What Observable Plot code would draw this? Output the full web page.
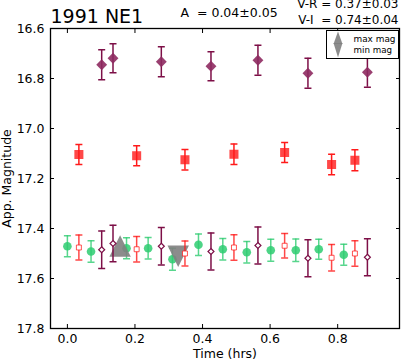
<!DOCTYPE html>
<html><head><meta charset="utf-8">
<script src="https://cdn.jsdelivr.net/npm/d3@7"></script>
<script src="https://cdn.jsdelivr.net/npm/@observablehq/plot@0.6"></script>
<style>
body{margin:0;background:#fff;}
#chart{position:relative;width:401px;height:362px;font-family:"DejaVu Sans",sans-serif;}
#legend{position:absolute;left:326px;top:30px;width:71px;height:27px;border:1px solid #000;background:#fff;}
#legend svg{display:block;}
#legend text{font-family:"DejaVu Sans";font-size:9px;fill:#000;}
</style></head><body><div id="chart"></div>
<script>
// V band (green circles)
const timeV = [0.0, 0.07, 0.175, 0.239, 0.311, 0.388, 0.46, 0.531, 0.602, 0.676, 0.744, 0.818];
const magV  = [17.471, 17.492, 17.479, 17.479, 17.523, 17.465, 17.483, 17.495, 17.487, 17.487, 17.483, 17.505];
const errV  = [0.042, 0.043, 0.042, 0.043, 0.044, 0.043, 0.043, 0.043, 0.044, 0.045, 0.040, 0.042];
// R band (red squares)
const timeR = [0.034, 0.205, 0.348, 0.493, 0.643, 0.782, 0.851];
const magR  = [17.104, 17.109, 17.125, 17.103, 17.096, 17.144, 17.127];
const errR  = [0.040, 0.040, 0.041, 0.041, 0.040, 0.041, 0.042];
// R band shifted by V-R (open squares)
const magRs = [17.476, 17.483, 17.500, 17.476, 17.469, 17.517, 17.500];
const errRs = [0.050, 0.051, 0.050, 0.051, 0.049, 0.053, 0.051];
// I band (purple diamonds)
const timeI = [0.1015, 0.135, 0.278, 0.425, 0.564, 0.712, 0.888];
const magI  = [16.745, 16.719, 16.733, 16.751, 16.727, 16.779, 16.775];
const errI  = [0.060, 0.058, 0.060, 0.058, 0.060, 0.060, 0.060];
// I band shifted by V-I (open diamonds)
const magIs = [17.485, 17.460, 17.471, 17.492, 17.468, 17.519, 17.515];
const errIs = [0.075, 0.073, 0.075, 0.074, 0.074, 0.074, 0.074];
// lightcurve extremes
const maxTime = [0.156], maxMag = [17.470];
const minTime = [0.328], minMag = [17.511];
// ticks and labels
const xTicks = [0, 0.2, 0.4, 0.6, 0.8];
const yTicks = [16.6, 16.8, 17.0, 17.2, 17.4, 17.6, 17.8];
const titleText = "1991 NE1";
const ampText = "A  = 0.04\u00b10.05";
const vrText = "V-R = 0.37\u00b10.03";
const viText = "V-I  = 0.74\u00b10.04";
const legendLabels = ["max mag", "min mag"];

const rows = (t, m, e) => t.map((x, i) => ({t: x, m: m[i], e: e ? e[i] : 0}));
const V = rows(timeV, magV, errV);
const R = rows(timeR, magR, errR);
const Rs = rows(timeR, magRs, errRs);
const I = rows(timeI, magI, errI);
const Is = rows(timeI, magIs, errIs);
const MX = rows(maxTime, maxMag);
const MN = rows(minTime, minMag);

const green = "#2ecc71", red = "#ff1a1a", purple = "#7d0f47", purpleFill = "#8e2a60", gray = "#7f7f7f";

const cap = {draw(ctx, size){const w = Math.sqrt(size/Math.PI); ctx.moveTo(-w,0); ctx.lineTo(w,0);}};
const triUp = {draw(ctx, size){const r = Math.sqrt(size/Math.PI); ctx.moveTo(0,-r); ctx.lineTo(r,r); ctx.lineTo(-r,r); ctx.closePath();}};
const triDown = {draw(ctx, size){const r = Math.sqrt(size/Math.PI); ctx.moveTo(0,r); ctx.lineTo(r,-r); ctx.lineTo(-r,-r); ctx.closePath();}};

function errorMarks(data, color, opacity) {
  const o = {x: "t", stroke: color, strokeWidth: 1.5, strokeOpacity: opacity};
  return [
    Plot.ruleX(data, {...o, y1: d => d.m - d.e, y2: d => d.m + d.e}),
    Plot.dot(data, {...o, y: d => d.m - d.e, symbol: cap, r: 3.5, fill: "none"}),
    Plot.dot(data, {...o, y: d => d.m + d.e, symbol: cap, r: 3.5, fill: "none"})
  ];
}
const fmt = d3.format(".1f");
const blank = () => "";

const chart = Plot.plot({
  width: 401, height: 362,
  marginLeft: 50, marginRight: 2, marginTop: 28, marginBottom: 34,
  style: {fontFamily: "DejaVu Sans", fontSize: "12.5px", background: "white", overflow: "visible"},
  x: {domain: [-0.05, 0.983]},
  y: {domain: [17.8, 16.6]},
  marks: [
    Plot.axisX({anchor: "bottom", ticks: xTicks, tickSize: 0, tickPadding: 6, tickFormat: fmt, fontSize: 12.5, label: "Time (hrs)", labelAnchor: "center", labelOffset: 29, labelArrow: "none"}),
    Plot.axisX({anchor: "bottom", ticks: xTicks, tickSize: -4, tickFormat: blank, label: null}),
    Plot.axisX({anchor: "top", ticks: xTicks, tickSize: -4, tickFormat: blank, label: null}),
    Plot.axisY({anchor: "left", ticks: yTicks, tickSize: 0, tickPadding: 6, tickFormat: fmt, fontSize: 12.5, label: "App. Magnitude", labelAnchor: "center", labelOffset: 48, labelArrow: "none"}),
    Plot.axisY({anchor: "left", ticks: yTicks, tickSize: -4, tickFormat: blank, label: null}),
    Plot.axisY({anchor: "right", ticks: yTicks, tickSize: -4, tickFormat: blank, label: null}),
    ...errorMarks(V, green, 0.8),
    Plot.dot(V, {x: "t", y: "m", r: 4.3, fill: green, fillOpacity: 0.85}),
    Plot.dot(MX, {x: "t", y: "m", symbol: triUp, r: 10.7, fill: gray, fillOpacity: 0.9}),
    Plot.dot(MN, {x: "t", y: "m", symbol: triDown, r: 10.7, fill: gray, fillOpacity: 0.9}),
    ...errorMarks(Rs, red, 0.8),
    Plot.dot(Rs, {x: "t", y: "m", symbol: "square", r: 2.8, stroke: red, strokeOpacity: 0.75, fill: "white", strokeWidth: 1}),
    ...errorMarks(Is, purple, 1),
    Plot.dot(Is, {x: "t", y: "m", symbol: "diamond2", r: 2.7, stroke: purple, fill: "white", strokeWidth: 1.2}),
    ...errorMarks(R, red, 1),
    Plot.dot(R, {x: "t", y: "m", symbol: "square", r: 5.1, fill: red, fillOpacity: 0.8}),
    ...errorMarks(I, purple, 1),
    Plot.dot(I, {x: "t", y: "m", symbol: "diamond2", r: 4.9, fill: purpleFill, fillOpacity: 0.9}),
    Plot.frame({stroke: "#000", strokeWidth: 1.3}),
    Plot.text([titleText], {text: d => d, frameAnchor: "top-left", textAnchor: "start", lineAnchor: "bottom", dy: -5.3, fontSize: 19}),
    Plot.text([ampText], {text: d => d, frameAnchor: "top-left", textAnchor: "start", lineAnchor: "bottom", dx: 130, dy: -11.3, fontSize: 12.5}),
    Plot.text([vrText], {text: d => d, frameAnchor: "top-right", textAnchor: "end", lineAnchor: "bottom", dx: -1, dy: -20.2, fontSize: 12}),
    Plot.text([viText], {text: d => d, frameAnchor: "top-right", textAnchor: "end", lineAnchor: "bottom", dx: -1, dy: -4.7, fontSize: 12})
  ]
});
const root = document.getElementById("chart");
root.appendChild(chart);

const legend = document.createElement("div");
legend.id = "legend";
legend.innerHTML = `<svg width="71" height="27">
  <path d="M11,0.5L15.5,13L6.5,13Z" fill="${gray}" fill-opacity="0.9"/>
  <path d="M11,26.5L15.5,12L6.5,12Z" fill="${gray}" fill-opacity="0.9"/>
  <text x="26.5" y="10.7" textLength="42" lengthAdjust="spacingAndGlyphs">${legendLabels[0]}</text>
  <text x="26.5" y="22.3" textLength="38.5" lengthAdjust="spacingAndGlyphs">${legendLabels[1]}</text>
</svg>`;
root.appendChild(legend);
</script>
</body></html>
